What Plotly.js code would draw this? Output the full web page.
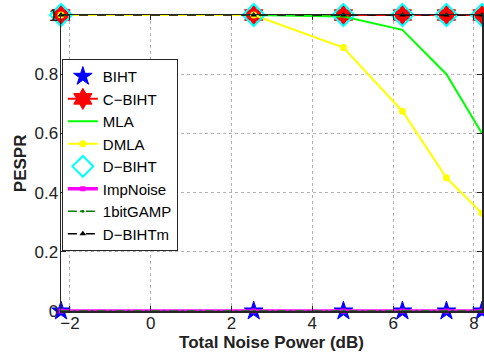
<!DOCTYPE html>
<html>
<head>
<meta charset="utf-8">
<script src="https://cdn.plot.ly/plotly-3.0.1.min.js"></script>
<style>html,body{margin:0;padding:0;background:#fff;}#chart{width:484px;height:354px;}</style>
</head>
<body>
<div id="chart"></div>
<script>
// Total noise power in dB (x positions of the measured points)
var noiseDb = [-2.22, 2.55, 4.77, 6.23, 7.32, 8.20];
// PESPR values per algorithm
var biht      = [0, 0, 0, 0, 0, 0];
var cbiht     = [1, 1, 1, 1, 1, 1];
var mla       = [1, 1, 0.995, 0.95, 0.80, 0.60];
var dmla      = [1, 1, 0.89, 0.675, 0.45, 0.33];
var dbiht     = [1, 1, 1, 1, 1, 1];
var impNoise  = [0, 0, 0, 0, 0, 0];
var gamp1bit  = [0, 0, 0, 0, 0, 0];
var dbihtm    = [1, 1, 1, 1, 1, 1];
var xTicks = [-2, 0, 2, 4, 6, 8];
var yTicks = [0, 0.2, 0.4, 0.6, 0.8, 1];
var yTickText = ['0', '0.2', '0.4', '0.6', '0.8', '1'];
var xTitle = 'Total Noise Power (dB)';
var yTitle = 'PESPR';

var traces = [
  {x: noiseDb, y: biht, name: 'BIHT', mode: 'markers',
   marker: {symbol: 'star', size: 14, color: '#0000ff', line: {color: '#0000ff', width: 1}}},
  {x: noiseDb, y: cbiht, name: 'C\u2212BIHT', mode: 'lines+markers',
   line: {color: '#ff0000', width: 2},
   marker: {symbol: 'hexagram', size: 16, color: '#ff0000', line: {color: '#ff0000', width: 1}}},
  {x: noiseDb, y: mla, name: 'MLA', mode: 'lines',
   line: {color: '#00ff00', width: 2}},
  {x: noiseDb, y: dmla, name: 'DMLA', mode: 'lines+markers',
   line: {color: '#ffff00', width: 2},
   marker: {symbol: 'circle', size: 7, color: '#ffff00'}},
  {x: noiseDb, y: dbiht, name: 'D\u2212BIHT', mode: 'markers',
   marker: {symbol: 'diamond-open', size: 17, color: '#00ffff', line: {color: '#00ffff', width: 2}}},
  {x: noiseDb, y: impNoise, name: 'ImpNoise', mode: 'lines+markers',
   line: {color: '#ff00ff', width: 3.5},
   marker: {symbol: 'square', size: 5, color: '#ff00ff'}},
  {x: noiseDb, y: gamp1bit, name: '1bitGAMP', mode: 'lines+markers',
   line: {color: '#008000', width: 1.5, dash: 'dashdot'},
   marker: {symbol: 'circle', size: 3, color: '#008000'}},
  {x: noiseDb, y: dbihtm, name: 'D\u2212BIHTm', mode: 'lines+markers',
   line: {color: '#000000', width: 1.5, dash: 'dash'},
   marker: {symbol: 'triangle-up', size: 6, color: '#000000'}}
];
traces.forEach(function(t){ t.cliponaxis = false; });

var fontFam = 'Liberation Sans, Arial, sans-serif';
var axisCommon = {
  showline: true, linecolor: '#262626', linewidth: 1.5, mirror: 'ticks',
  ticks: 'inside', ticklen: 5, tickcolor: '#262626',
  showgrid: true, gridcolor: '#b3b3b3', griddash: 'dot', gridwidth: 1,
  zeroline: false,
  tickfont: {family: fontFam, size: 17, color: '#222'}
};

var layout = {
  width: 484, height: 354,
  margin: {l: 61, r: 2, t: 15, b: 43},
  paper_bgcolor: '#fff', plot_bgcolor: '#fff',
  showlegend: true,
  xaxis: Object.assign({}, axisCommon, {
    range: [-2.22, 8.2], tickvals: xTicks, ticklabelstandoff: -4,
    title: {text: xTitle, standoff: 0,
      font: {family: fontFam, size: 17, color: '#222', weight: 'bold'}}
  }),
  yaxis: Object.assign({}, axisCommon, {
    range: [0, 1], tickvals: yTicks, ticktext: yTickText, ticklabelstandoff: -2
  }),
  annotations: [{
    text: yTitle, xref: 'paper', yref: 'paper', x: -0.097, y: 0.5,
    xanchor: 'center', yanchor: 'middle', textangle: -90, showarrow: false,
    font: {family: fontFam, size: 17, color: '#222', weight: 'bold'}
  }],
  legend: {
    x: 0.002, y: 0.851, xanchor: 'left', yanchor: 'top',
    bgcolor: '#fff', bordercolor: '#262626', borderwidth: 1,
    font: {family: fontFam, size: 15, color: '#000'},
    itemwidth: 30, tracegroupgap: 0
  }
};

Plotly.newPlot('chart', traces, layout, {displayModeBar: false, staticPlot: true});
</script>
</body>
</html>
